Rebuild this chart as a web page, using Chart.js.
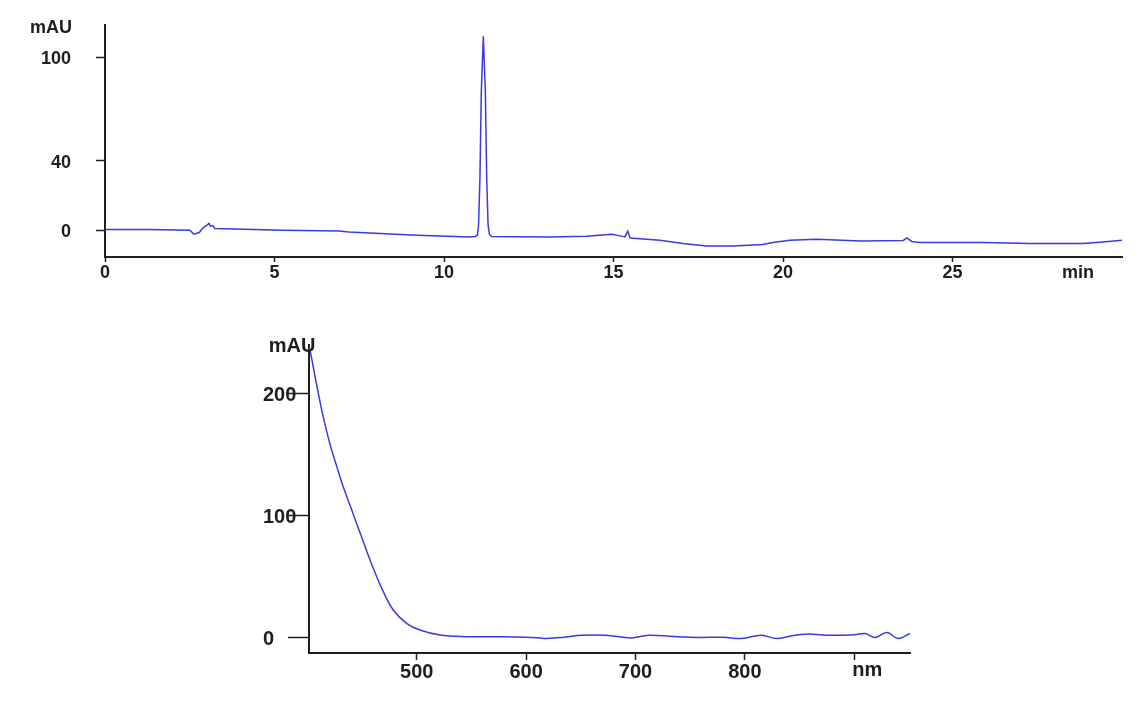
<!DOCTYPE html>
<html>
<head>
<meta charset="utf-8">
<script src="https://cdn.jsdelivr.net/npm/chart.js@4.4.1/dist/chart.umd.min.js"></script>
<style>
  body { margin: 0; background: #fff; }
  .box { position: absolute; left: 0; width: 1144px; }
  #top { top: 0; height: 300px; }
  #bottom { top: 300px; height: 404px; }
</style>
</head>
<body>
<div class="box" id="top"><canvas id="chromChart"></canvas></div>
<div class="box" id="bottom"><canvas id="specChart"></canvas></div>
<script>
// Chromatogram (top): retention time in min, absorbance in mAU
const timeMin = [0, 1.3, 2.5, 2.62, 2.78, 2.9, 3.0, 3.07, 3.12, 3.18, 3.24, 5.25, 6.9, 7.2, 9.2, 10.77,
    10.92, 10.99, 11.02, 11.06, 11.10, 11.16, 11.22, 11.26, 11.30, 11.34, 11.40,
    13.1, 14.2, 14.95, 15.2, 15.34, 15.42, 15.49, 16.37, 17.05, 17.75, 18.53, 19.4, 19.7,
    20.2, 21.0, 22.3, 23.55, 23.65, 23.8, 24.04, 25.9, 27.3, 28.85, 29.44, 30.0];
const chromMAU = [0.4, 0.4, 0, -2.3, -1.4, 1.5, 2.8, 3.9, 2.2, 2.6, 1.0, 0, -0.5, -1.0, -2.9, -3.9,
    -3.6, -2.8, 3, 30, 80, 112, 80, 30, 3, -2.5, -3.6,
    -3.9, -3.5, -2.3, -3.3, -3.9, -0.6, -4.5, -5.8, -7.7, -9.1, -9.2, -8.3, -7.1,
    -5.8, -5.2, -6.2, -5.9, -4.5, -6.5, -7.1, -7.1, -7.7, -7.7, -6.8, -5.8];
const chromTicksX = [0, 5, 10, 15, 20, 25];
const chromTicksY = [0, 40, 100];

// UV-Vis spectrum (bottom): wavelength in nm, absorbance in mAU
const waveNm = [401.5, 402.4, 408.5, 414.6, 420.7, 426.8, 432.8, 442.0, 451.1, 460.2, 469.4, 478.5,
    490.7, 502.9, 521.2, 545.6, 576.0,
    600, 611, 619, 635, 651, 673, 696, 712, 735, 758, 780, 797, 815, 829, 842, 856, 879,
    900, 910, 919, 930, 940, 951];
const specMAU = [238, 236, 207.2, 180.5, 158.5, 140.5, 123.5, 101, 78.5, 56.8, 37.4, 22.3,
    11.4, 5.9, 1.8, 0.4, 0.3,
    0, -0.5, -1.1, 0, 1.6, 1.6, -0.6, 1.6, 0.5, -0.2, 0, -1.1, 1.6, -1.1, 1, 2.5, 1.6,
    2, 3.0, -0.2, 3.9, -1.1, 3.0];
const specTicksX = [500, 600, 700, 800, 900];
const specTicksY = [0, 100, 200];

const lineColor = "rgb(58,58,230)";
const axisColor = "#1e1e1e";
const topFont = { family: "'Liberation Sans', Arial, sans-serif", size: 18, weight: "bold" };
const bottomFont = { family: "'Liberation Sans', Arial, sans-serif", size: 20, weight: "bold" };

// draws unit captions (mAU, min, nm) next to the axes
function unitText(items) {
    return {
        id: "unitText",
        afterDraw(chart) {
            let ctx = chart.ctx;
            ctx.save();
            ctx.fillStyle = axisColor;
            ctx.textBaseline = "middle";
            items.forEach(it => {
                ctx.font = it.font;
                ctx.textAlign = it.align;
                let p = it.pos(chart);
                ctx.fillText(it.text, p[0], p[1]);
            });
            ctx.restore();
        }
    };
}

function fixedTicks(list) {
    return scale => { scale.ticks = list.map(v => ({ value: v })); };
}

// fixed axis thickness, and no extra room for the end labels
function fixWidth(w) {
    return s => { s.width = w; s.paddingTop = 0; s.paddingBottom = 0; };
}
function fixHeight(h) {
    return s => { s.height = h; s.paddingLeft = 0; s.paddingRight = 0; };
}

new Chart(document.getElementById("chromChart"), {
    type: "line",
    data: {
        datasets: [{
            data: timeMin.map((t, i) => ({ x: t, y: chromMAU[i] })),
            borderColor: lineColor,
            borderWidth: 1.5,
            pointRadius: 0,
            tension: 0,
            fill: false
        }]
    },
    options: {
        responsive: true,
        maintainAspectRatio: false,
        animation: false,
        layout: { padding: { left: 0, right: 22, top: 25, bottom: 0 } },
        plugins: { legend: { display: false }, tooltip: { enabled: false } },
        scales: {
            x: {
                type: "linear", min: 0, max: 30,
                afterBuildTicks: fixedTicks(chromTicksX),
                afterFit: fixHeight(43),
                grid: { drawOnChartArea: false, tickLength: 5, tickColor: axisColor, tickWidth: 1.5 },
                border: { color: axisColor, width: 2 },
                ticks: { font: topFont, color: axisColor, padding: 0, maxRotation: 0, autoSkip: false }
            },
            y: {
                type: "linear", min: -15.5, max: 118.5,
                afterBuildTicks: fixedTicks(chromTicksY),
                afterFit: fixWidth(105),
                grid: { drawOnChartArea: false, tickLength: 9, tickColor: axisColor, tickWidth: 1.5 },
                border: { color: axisColor, width: 2 },
                ticks: { font: topFont, color: axisColor, padding: 25, labelOffset: 2 }
            }
        }
    },
    plugins: [unitText([
        { text: "mAU", font: "bold 18px 'Liberation Sans', Arial", align: "right",
          pos: c => [c.chartArea.left - 33, c.chartArea.top + 3] },
        { text: "min", font: "bold 18px 'Liberation Sans', Arial", align: "center",
          pos: c => [c.chartArea.right - 44, c.chartArea.bottom + 16] }
    ])]
});

new Chart(document.getElementById("specChart"), {
    type: "line",
    data: {
        datasets: [{
            data: waveNm.map((w, i) => ({ x: w, y: specMAU[i] })),
            borderColor: lineColor,
            borderWidth: 1.5,
            pointRadius: 0,
            tension: 0.4,
            fill: false
        }]
    },
    options: {
        responsive: true,
        maintainAspectRatio: false,
        animation: false,
        layout: { padding: { left: 263, right: 234, top: 45, bottom: 0 } },
        plugins: { legend: { display: false }, tooltip: { enabled: false } },
        scales: {
            x: {
                type: "linear", min: 401.5, max: 951,
                afterBuildTicks: fixedTicks(specTicksX),
                afterFit: fixHeight(51),
                grid: { drawOnChartArea: false, tickLength: 7, tickColor: axisColor, tickWidth: 1.5 },
                border: { color: axisColor, width: 2 },
                ticks: {
                    font: bottomFont, color: axisColor, padding: 0, maxRotation: 0, autoSkip: false,
                    callback: v => v === 900 ? "" : v
                }
            },
            y: {
                type: "linear", min: -13, max: 240,
                afterBuildTicks: fixedTicks(specTicksY),
                afterFit: fixWidth(46),
                grid: { drawOnChartArea: false, tickLength: 21, tickColor: axisColor, tickWidth: 1.5 },
                border: { color: axisColor, width: 2 },
                ticks: { font: bottomFont, color: axisColor, crossAlign: "far", labelOffset: 2 }
            }
        }
    },
    plugins: [unitText([
        { text: "mAU", font: "bold 20px 'Liberation Sans', Arial", align: "center",
          pos: c => [c.chartArea.left - 17, c.chartArea.top + 1.5] },
        { text: "nm", font: "bold 20px 'Liberation Sans', Arial", align: "center",
          pos: c => [c.scales.x.getPixelForValue(900) + 13, c.chartArea.bottom + 17] }
    ])]
});
</script>
</body>
</html>
